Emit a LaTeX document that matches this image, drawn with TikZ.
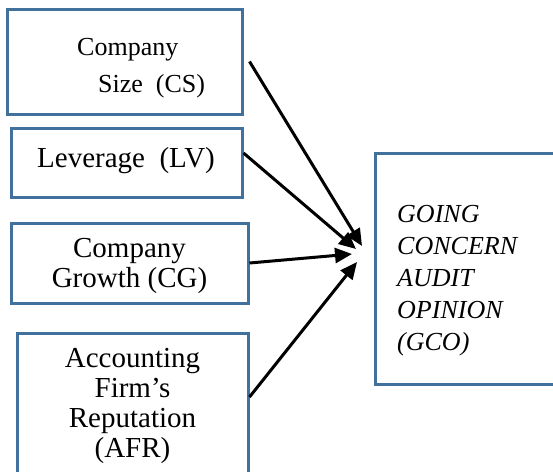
\documentclass[tikz,border=0pt]{standalone}
\usepackage{fontspec}
\setmainfont{Liberation Serif}
\usetikzlibrary{arrows.meta}
\definecolor{boxblue}{RGB}{65,113,156}

\begin{document}
\begin{tikzpicture}[x=1pt,y=-1pt]
\tikzstyle{var}=[rectangle, draw=boxblue, line width=3pt, inner sep=0pt]
\tikzstyle{lbl}=[inner sep=0pt, align=center, anchor=base, font=\fontsize{29}{30}\selectfont]
\tikzstyle{connect}=[-{Triangle[length=17pt,width=15pt]}, line width=3pt]

\useasboundingbox (0,0) rectangle (553,471);
\clip (0,0) rectangle (553,471);

  % boxes
  \node[var, minimum width=235pt, minimum height=105pt] (CS)  at (124.5,61.5)  {};
  \node[var, minimum width=231pt, minimum height=69pt]  (LV)  at (126.5,162.5) {};
  \node[var, minimum width=237pt, minimum height=80pt]  (CG)  at (129.5,263)   {};
  \node[var, minimum width=231pt, minimum height=157pt] (AFR) at (132.5,411.5) {};
  \node[var, minimum width=195pt, minimum height=231pt] (GCO) at (472.5,268.5) {};

  % texts (base = last line)
  \node[lbl, anchor=base west, align=left, font=\fontsize{26}{30}\selectfont] (CStext) at (77,92)
       {Company\\[7pt]\hspace*{21pt}Size\ \ (CS)};
  \node[lbl] (LVtext)  at (126,167)   {Leverage\ \ (LV)};
  \node[lbl] (CGtext)  at (129.5,287) {Company\\Growth (CG)};
  \node[lbl] (AFRtext) at (132.5,457) {Accounting\\Firm’s\\Reputation\\(AFR)};
  \node[lbl, anchor=base west, align=left, font=\fontsize{26}{32}\selectfont\itshape] (GCOtext) at (397,350)
       {GOING\\CONCERN\\AUDIT\\OPINION\\(GCO)};

  % arrow tips
  \coordinate (tipCS)  at (362,246);
  \coordinate (tipLV)  at (356,249);
  \coordinate (tipCG)  at (352,254);
  \coordinate (tipAFR) at (357,262);

  \path ([xshift=6pt]CS.east)     edge [connect] (tipCS);
  \path ([yshift=9.5pt]LV.east)   edge [connect] (tipLV);
  \path (CG.east)                 edge [connect] (tipCG);
  \path ([yshift=14.5pt]AFR.east) edge [connect] (tipAFR);

\end{tikzpicture}
\end{document}
